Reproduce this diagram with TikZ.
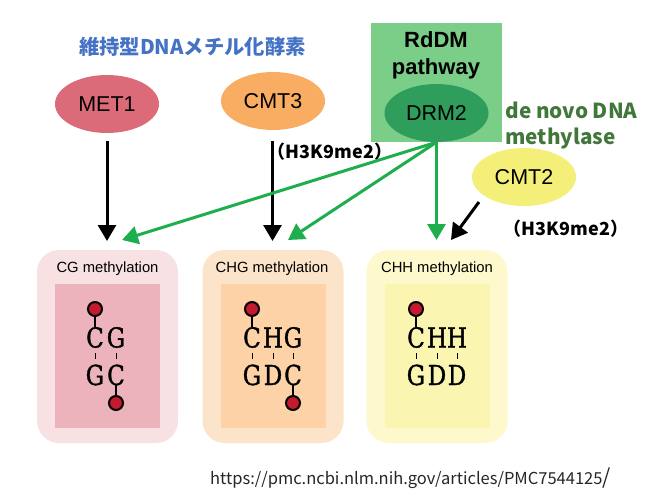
\documentclass[tikz,border=0pt]{standalone}
\usepackage{fontspec}
\setmainfont{Liberation Sans}
\newfontfamily\cjkfont{Noto Sans CJK JP}
\newfontfamily\basefont[FakeStretch=0.84,FakeBold=1.2]{DejaVu Serif}
\usetikzlibrary{positioning}
\usetikzlibrary{shapes.geometric}
\usetikzlibrary{arrows.meta}
\definecolor{arrowgreen}{HTML}{1FAE4E}
\definecolor{pinred}{HTML}{C41A30}
\definecolor{headblue}{HTML}{4472C4}
\definecolor{denovo}{HTML}{41773A}
\definecolor{metred}{HTML}{DB6B79}
\definecolor{cmtorange}{HTML}{F9AD63}
\definecolor{pathgreen}{HTML}{7ACE88}
\definecolor{drmgreen}{HTML}{2F9E5C}
\definecolor{cmtyellow}{HTML}{F4EF78}
\definecolor{cgouter}{HTML}{F7E1E3}
\definecolor{cginner}{HTML}{EDB3BC}
\definecolor{chgouter}{HTML}{FCE4CB}
\definecolor{chginner}{HTML}{FCD2A6}
\definecolor{chhouter}{HTML}{FDF9CC}
\definecolor{chhinner}{HTML}{FBF5B2}
\tikzset{
    enzyme/.style={ellipse, inner sep=0pt, minimum width=104pt, minimum height=58pt, font=\fontsize{21.5}{24}\selectfont},
    outerbox/.style={rounded corners=22pt, inner sep=0pt, minimum width=141pt, minimum height=193pt},
    innerbox/.style={inner sep=0pt, minimum width=105pt, minimum height=144pt},
    baseletter/.style={inner sep=0pt, text height=20pt, text depth=0pt, font=\basefont\fontsize{27.5}{30}\selectfont},
    pin/.style={circle, draw=black, line width=2pt, fill=pinred, inner sep=0pt, minimum size=14pt},
    pinline/.style={line width=2pt},
    pairdash/.style={line width=1pt, shorten >=5.5pt, shorten <=5.5pt},
    blackarrow/.style={line width=3pt, -{Triangle[length=16pt,width=18pt]}},
    greenarrow/.style={line width=3pt, draw=arrowgreen, -{Triangle[length=16pt,width=18pt]}},
    histone/.style={font=\cjkfont\bfseries\fontsize{18}{20}\selectfont, inner sep=0pt}
}
\newcommand{\methbox}[6]{ % Takes name, x centre, outer colour, inner colour, title text, x shift of title
    \node [outerbox, fill=#3] (#1outer) at (#2,346.5) {};
    \node [innerbox, fill=#4] (#1inner) at (#2,356) {};
    \node [inner sep=0pt, font=\fontsize{14.8}{16}\selectfont] (#1title) at (#2+#6,269) {#5};
}
\newcommand{\baseletter}[4]{ % Takes name, x coord, y coord, letter
    \node [baseletter] (#1) at (#2,#3) {#4};
}

\begin{document}
\begin{tikzpicture}[x=1pt,y=-1pt]
    \useasboundingbox (0,0) rectangle (667,503);

    % Heading
    \node [inner sep=0pt, font=\cjkfont\bfseries\fontsize{20.3}{22}\selectfont, text=headblue] (heading) at (192.5,47) {維持型DNAメチル化酵素};

    % Enzymes
    \node [enzyme, fill=metred] (met1) at (107,104) {MET1};
    \node [enzyme, fill=cmtorange] (cmt3) at (273,101) {CMT3};
    \node [fill=pathgreen, inner sep=0pt, minimum width=131pt, minimum height=119pt] (rddm) at (436.5,82.5) {};
    \node [inner sep=0pt, align=center, font=\bfseries\fontsize{22}{27}\selectfont] (rddmtext) at (436,55.5) {RdDM\\pathway};
    \node [enzyme, fill=drmgreen] (drm2) at (436.5,113) {DRM2};
    \node [enzyme, fill=cmtyellow] (cmt2) at (524,177) {CMT2};
    \node [inner sep=0pt, align=left, text=denovo, font=\cjkfont\bfseries\fontsize{20.7}{26}\selectfont] (denovo) at (571.5,125) {de novo DNA\\methylase};
    \node [histone] (histleft) at (330,152) {（H3K9me2）};
    \node [histone] (histright) at (566,229) {（H3K9me2）};

    % Boxes
    \methbox{cg}{107.5}{cgouter}{cginner}{CG methylation}{0}
    \methbox{chg}{273}{chgouter}{chginner}{CHG methylation}{-1}
    \methbox{chh}{437}{chhouter}{chhinner}{CHH methylation}{0}

    % Arrow ends
    \coordinate (metstart) at (107,141);
    \coordinate (cgtip) at (107,241);
    \coordinate (cmtstart) at (272.5,141);
    \coordinate (chgtip) at (272.5,241);
    \coordinate (drmcg) at (122,240);
    \coordinate (drmchg) at (288,240);
    \coordinate (drmchh) at (436.5,240);
    \coordinate (cmttwostart) at (479,202);
    \coordinate (chhtip) at (451,240);

    % Arrows
    \draw [blackarrow] (metstart) -- (cgtip);
    \draw [blackarrow] (cmtstart) -- (chgtip);
    \draw [greenarrow] (drm2.south) -- (drmcg);
    \draw [greenarrow] (drm2.south) -- (drmchg);
    \draw [greenarrow] (drm2.south) -- (drmchh);
    \draw [blackarrow] (cmttwostart) -- (chhtip);

    % CG letters
    \baseletter{cga}{95}{337.5}{C}
    \baseletter{cgb}{116}{337.5}{G}
    \baseletter{cgc}{95}{375}{G}
    \baseletter{cgd}{116}{375}{C}
    \draw [pairdash] (cga) -- (cgc);
    \draw [pairdash] (cgb) -- (cgd);
    \node [pin] (cgpina) at (95,309) {};
    \node [pin] (cgpinb) at (116,403) {};
    \draw [pinline] (cgpina) -- (cga);
    \draw [pinline] (cgpinb) -- (cgd);

    % CHG letters
    \baseletter{chga}{252}{337.5}{C}
    \baseletter{chgb}{273}{337.5}{H}
    \baseletter{chgc}{293}{337.5}{G}
    \baseletter{chgd}{252}{375}{G}
    \baseletter{chge}{273}{375}{D}
    \baseletter{chgf}{293}{375}{C}
    \draw [pairdash] (chga) -- (chgd);
    \draw [pairdash] (chgb) -- (chge);
    \draw [pairdash] (chgc) -- (chgf);
    \node [pin] (chgpina) at (252,309) {};
    \node [pin] (chgpinb) at (293,403) {};
    \draw [pinline] (chgpina) -- (chga);
    \draw [pinline] (chgpinb) -- (chgf);

    % CHH letters
    \baseletter{chha}{416}{337.5}{C}
    \baseletter{chhb}{437}{337.5}{H}
    \baseletter{chhc}{457}{337.5}{H}
    \baseletter{chhd}{416}{375}{G}
    \baseletter{chhe}{437}{375}{D}
    \baseletter{chhf}{457}{375}{D}
    \draw [pairdash] (chha) -- (chhd);
    \draw [pairdash] (chhb) -- (chhe);
    \draw [pairdash] (chhc) -- (chhf);
    \node [pin] (chhpina) at (416,309) {};
    \draw [pinline] (chhpina) -- (chha);

    % Source
    \node [inner sep=0pt, anchor=west, font=\cjkfont\fontsize{16.5}{18}\selectfont, text=black!85] (source) at (210,478) {https://pmc.ncbi.nlm.nih.gov/articles/PMC7544125{\fontsize{21}{18}\selectfont /}};
\end{tikzpicture}
\end{document}
